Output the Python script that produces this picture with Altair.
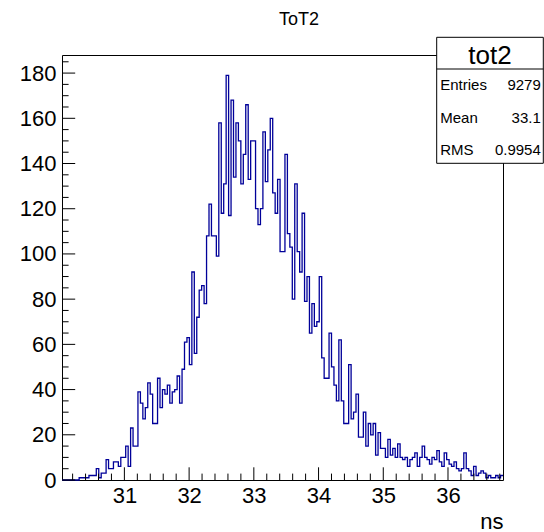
import altair as alt
import pandas as pd

# ---------------- data ----------------
x_min = 30.036
x_max = 36.85
counts = [
    0, 0, 0, 0, 0, 0, 0, 1, 1, 1,
    1, 2, 2, 2, 5, 1, 3, 3, 9, 5,
    5, 8, 8, 6, 10, 10, 15, 6, 23, 15,
    15, 39, 34, 27, 32, 43, 38, 25, 25, 45,
    32, 40, 38, 42, 34, 39, 40, 46, 34, 49,
    61, 63, 51, 92, 56, 72, 84, 86, 78, 108,
    122, 108, 108, 99, 158, 118, 131, 179, 117, 168,
    134, 158, 150, 131, 144, 166, 133, 150, 150, 120,
    113, 120, 154, 132, 146, 160, 127, 118, 133, 101,
    101, 144, 109, 103, 80, 131, 101, 92, 118, 79,
    90, 65, 78, 68, 70, 90, 54, 45, 45, 65,
    50, 42, 35, 62, 35, 25, 25, 51, 27, 30,
    38, 19, 19, 30, 15, 25, 20, 25, 11, 21,
    14, 14, 10, 18, 11, 14, 10, 16, 10, 9,
    10, 6, 9, 10, 12, 6, 10, 15, 10, 9,
    7, 10, 9, 13, 8, 6, 12, 9, 7, 6,
    8, 5, 4, 5, 12, 5, 4, 2, 6, 2,
    3, 4, 3, 1, 2, 1, 1, 2, 1, 2,
]
y_max = 188

x_major = [31, 32, 33, 34, 35, 36]
x_minor = [30.2, 30.4, 30.6, 30.8, 31.2, 31.4, 31.6, 31.8, 32.2, 32.4, 32.6, 32.8,
           33.2, 33.4, 33.6, 33.8, 34.2, 34.4, 34.6, 34.8, 35.2, 35.4, 35.6, 35.8,
           36.2, 36.4, 36.6, 36.8]
y_major = [0, 20, 40, 60, 80, 100, 120, 140, 160, 180]
y_minor = [5, 10, 15, 25, 30, 35, 45, 50, 55, 65, 70, 75, 85, 90, 95, 105, 110, 115,
           125, 130, 135, 145, 150, 155, 165, 170, 175, 185]

title_text = "ToT2"
x_title = "ns"
stat_name = "tot2"
stat_labels = ["Entries", "Mean", "RMS"]
stat_values = ["9279", "33.1", "0.9954"]

# ---------------- layout ----------------
W, H = 441, 425
FONT = "Liberation Sans"
LINE = "#000099"

n = len(counts)
bw = (x_max - x_min) / n
edges = [x_min + i * bw for i in range(n + 1)]
hist_df = pd.DataFrame({"x": edges, "y": counts + [counts[-1]]})

xs = alt.Scale(domain=[x_min, x_max], nice=False, zero=False)
ys = alt.Scale(domain=[0, y_max], nice=False)

x_axis = alt.Axis(
    values=x_major, tickSize=0, domain=False, grid=False,
    labelFont=FONT, labelFontSize=22, labelColor="black", labelPadding=5,
    format="d",
    title=x_title, titleFont=FONT, titleFontSize=22, titleFontWeight="normal",
    titleColor="black", titleAnchor="end", titleAlign="right",
    titleX=W, titleY=48, titleBaseline="alphabetic")
y_axis = alt.Axis(
    values=y_major, tickSize=0, domain=False, grid=False,
    labelFont=FONT, labelFontSize=22, labelColor="black", labelPadding=6,
    format="d", title=None)

hist = alt.Chart(hist_df).mark_line(
    interpolate="step-after", color=LINE, strokeWidth=1.3
).encode(
    x=alt.X("x:Q", scale=xs, axis=x_axis),
    y=alt.Y("y:Q", scale=ys, axis=y_axis),
)

def xticks(vals, length):
    return alt.Chart(pd.DataFrame({"x": vals})).mark_rule(color="black", strokeWidth=1).encode(
        x=alt.X("x:Q", scale=xs, axis=x_axis),
        y=alt.value(H), y2=alt.value(H - length))

def yticks(vals, length):
    return alt.Chart(pd.DataFrame({"y": vals})).mark_rule(color="black", strokeWidth=1).encode(
        y=alt.Y("y:Q", scale=ys, axis=y_axis),
        x=alt.value(0), x2=alt.value(length))

one = pd.DataFrame({"a": [0]})

bx0, bx1, by0, by1 = 374.7, 481.3, -17.7, 108.3
box = alt.Chart(one).mark_rect(fill="white", stroke="black", strokeWidth=1).encode(
    x=alt.value(bx0), x2=alt.value(bx1), y=alt.value(by0), y2=alt.value(by1))
sep = alt.Chart(one).mark_rule(color="black", strokeWidth=1).encode(
    x=alt.value(bx0), x2=alt.value(bx1), y=alt.value(14))
name_txt = alt.Chart(one).mark_text(font=FONT, fontSize=26, align="center",
                                    baseline="alphabetic", color="black").encode(
    x=alt.value((bx0 + bx1) / 2), y=alt.value(8.5), text=alt.value(stat_name))

row_y = [35, 68, 100]
stat_layers = []
for lab, val, yy in zip(stat_labels, stat_values, row_y):
    stat_layers.append(alt.Chart(one).mark_text(font=FONT, fontSize=15, align="left",
                                                baseline="alphabetic", color="black").encode(
        x=alt.value(bx0 + 3.5), y=alt.value(yy), text=alt.value(lab)))
    stat_layers.append(alt.Chart(one).mark_text(font=FONT, fontSize=15, align="right",
                                                baseline="alphabetic", color="black").encode(
        x=alt.value(bx1 - 2.5), y=alt.value(yy), text=alt.value(val)))

title = alt.Chart(one).mark_text(font=FONT, fontSize=18, align="center",
                                 baseline="alphabetic", color="black").encode(
    x=alt.value(237), y=alt.value(-30), text=alt.value(title_text))

chart = alt.layer(
    hist,
    xticks(x_major, 12.7), xticks(x_minor, 6.4),
    yticks(y_major, 13.2), yticks(y_minor, 6.6),
    box, sep, name_txt, *stat_layers, title,
).properties(
    width=W, height=H,
    autosize=alt.AutoSizeParams(type="none"),
    padding={"left": 62, "top": 55, "right": 41, "bottom": 52},
    background="white",
).configure_view(stroke="black", strokeWidth=1)

chart.save("out.html", embed_options={"renderer": "svg", "actions": False})
